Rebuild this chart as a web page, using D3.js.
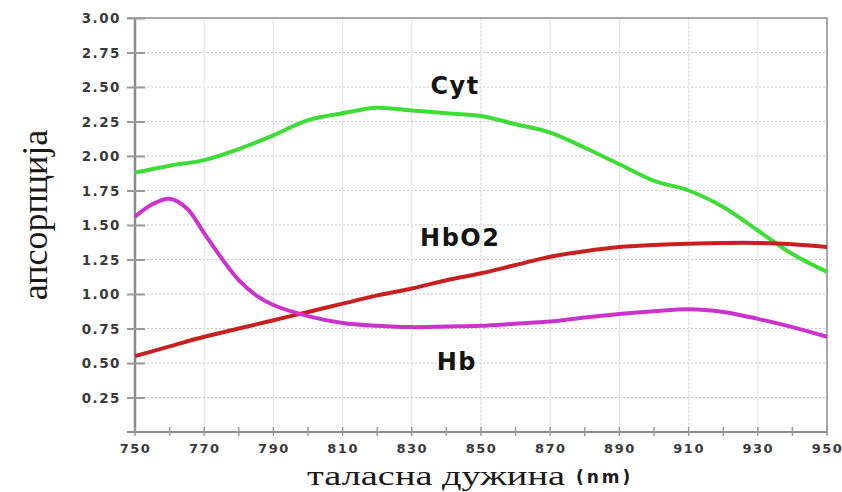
<!DOCTYPE html>
<html><head><meta charset="utf-8">
<script src="https://cdn.jsdelivr.net/npm/d3@7"></script>
<style>body{margin:0;background:#fff}svg{display:block}</style>
</head><body>
<svg id="c" width="842" height="492"></svg>
<script>
const wavelengths = [750,760,770,780,790,800,810,820,830,840,850,860,870,880,890,900,910,920,930,940,950];
const cytValues  = [1.88,1.93,1.97,2.05,2.15,2.26,2.31,2.35,2.33,2.31,2.29,2.23,2.17,2.06,1.94,1.82,1.75,1.63,1.46,1.29,1.16];
const hbo2Values = [0.55,0.62,0.69,0.75,0.81,0.87,0.93,0.99,1.04,1.10,1.15,1.21,1.27,1.31,1.34,1.355,1.365,1.37,1.37,1.36,1.34];
const hbWavelengths = [750,755,760,765,770,775,780,785,790,800,810,820,830,840,850,860,870,880,890,900,910,920,930,940,950];
const hbValues   = [1.56,1.65,1.69,1.62,1.44,1.26,1.10,0.99,0.92,0.84,0.79,0.77,0.76,0.765,0.77,0.785,0.80,0.83,0.855,0.875,0.89,0.87,0.82,0.76,0.69];
const xTickLabels = [750,770,790,810,830,850,870,890,910,930,950];
const yTickLabels = [0.25,0.5,0.75,1.0,1.25,1.5,1.75,2.0,2.25,2.5,2.75,3.0];
const seriesNames = ["Cyt","HbO2","Hb"];
const yTitle = "апсорпција";
const xTitle = "таласна дужина";
const xUnit = "(nm)";

const svg = d3.select("#c");
const L=135,R=827,T=18,B=432;
const x = d3.scaleLinear().domain([750,950]).range([L,R]);
const y = d3.scaleLinear().domain([0,3]).range([B,T]);
const tickFont = "DejaVu Sans, Verdana, sans-serif";

// grid
const g = svg.append("g");
g.selectAll(".hg").data(yTickLabels.filter(v=>v<3)).join("line")
  .attr("x1",L).attr("x2",R).attr("y1",d=>y(d)).attr("y2",d=>y(d))
  .attr("stroke","#c8c8c8").attr("stroke-width",1.2).attr("stroke-dasharray","2,2");
g.selectAll(".vg").data(xTickLabels.filter(v=>v>750&&v<950)).join("line")
  .attr("x1",d=>x(d)).attr("x2",d=>x(d)).attr("y1",T).attr("y2",B)
  .attr("stroke","#dedede").attr("stroke-width",1.2).attr("stroke-dasharray","3,1");

// frame
svg.append("rect").attr("x",L).attr("y",T).attr("width",R-L).attr("height",B-T)
  .attr("fill","none").attr("stroke","#8a8a8a").attr("stroke-width",1.5);
svg.append("line").attr("x1",L).attr("x2",L).attr("y1",T).attr("y2",B).attr("stroke","#8a8a8a").attr("stroke-width",2.5);
svg.append("line").attr("x1",L-8).attr("x2",R).attr("y1",B).attr("y2",B).attr("stroke","#8a8a8a").attr("stroke-width",2);
svg.append("line").attr("x1",L-8).attr("x2",L).attr("y1",T).attr("y2",T).attr("stroke","#8a8a8a").attr("stroke-width",1.5);

// y axis
const yAxis = d3.axisLeft(y).tickValues(yTickLabels).tickFormat(d3.format(".2f")).tickSize(0).tickPadding(0);
const ya = svg.append("g").attr("transform",`translate(${L},0)`).call(yAxis);
ya.select(".domain").remove();
ya.selectAll(".tick text").attr("x",-14).attr("dy","0.36em")
  .attr("font-family",tickFont).attr("font-weight","bold").attr("letter-spacing",1.5)
  .attr("font-size",13.5).attr("fill","#3a3a3a");
ya.selectAll(".tick").append("line").attr("x1",-8).attr("x2",10).attr("stroke","#9a9a9a").attr("stroke-width",2);

// x axis
const xAxis = d3.axisBottom(x).tickValues(xTickLabels).tickFormat(d3.format("d")).tickSize(0).tickPadding(0);
const xa = svg.append("g").attr("transform",`translate(0,${B})`).call(xAxis);
xa.select(".domain").remove();
xa.selectAll(".tick text").attr("x",0).attr("y",12).attr("dy","0.71em")
  .attr("font-family",tickFont).attr("font-weight","bold").attr("letter-spacing",1.5)
  .attr("font-size",13).attr("fill","#3a3a3a");
svg.append("g").selectAll("line").data(d3.range(750,951,10)).join("line")
  .attr("x1",d=>x(d)).attr("x2",d=>x(d)).attr("y1",B-5).attr("y2",B+4)
  .attr("stroke","#9a9a9a").attr("stroke-width",1.5);

// lines
const line = d3.line().x(d=>x(d[0])).y(d=>y(d[1])).curve(d3.curveCatmullRom.alpha(0.5));
const series = [
  {name:seriesNames[0], xs:wavelengths, vs:cytValues, color:"#3ddc36"},
  {name:seriesNames[1], xs:wavelengths, vs:hbo2Values, color:"#c8201e"},
  {name:seriesNames[2], xs:hbWavelengths, vs:hbValues, color:"#cc33cc"}
];
svg.append("g").selectAll("path").data(series).join("path")
  .attr("d",s=>line(s.xs.map((w,i)=>[w,s.vs[i]])))
  .attr("fill","none").attr("stroke",s=>s.color).attr("stroke-width",4).attr("stroke-linejoin","round");

// series labels
const lab = [{t:seriesNames[0],w:842.5,v:2.45},{t:seriesNames[1],w:844,v:1.345},{t:seriesNames[2],w:843,v:0.45}];
svg.append("g").selectAll("text").data(lab).join("text")
  .attr("x",d=>x(d.w)).attr("y",d=>y(d.v)).attr("text-anchor","middle")
  .attr("font-family",tickFont).attr("font-weight","bold")
  .attr("font-size",24).attr("fill","#141414").attr("letter-spacing",1.5).text(d=>d.t);

// titles
svg.append("text").attr("transform","translate(47,215) rotate(-90)").attr("text-anchor","middle")
  .attr("font-family","Liberation Serif, Times New Roman, serif").attr("font-size",36).attr("fill","#1a1a1a").text(yTitle);
const xt = svg.append("text").attr("x",307).attr("y",485)
  .attr("font-family","Liberation Serif, Times New Roman, serif").attr("font-size",28).attr("fill","#1a1a1a");
xt.append("tspan").attr("textLength",258).attr("lengthAdjust","spacingAndGlyphs").text(xTitle);
xt.append("tspan").attr("x",576).attr("font-family",tickFont).attr("font-weight","bold")
  .attr("font-size",17).attr("letter-spacing",3).attr("dy",-2).text(xUnit);
</script>
</body></html>
